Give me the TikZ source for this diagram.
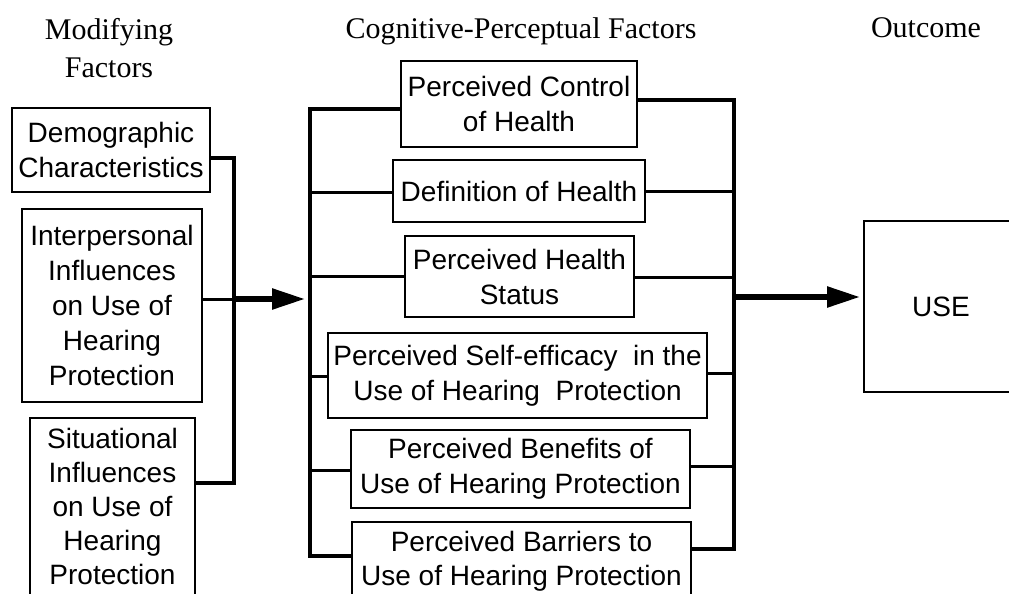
\documentclass[tikz,border=0pt]{standalone}
\usepackage{fontspec}
\setmainfont{Liberation Serif}
\setsansfont{Liberation Sans}
\usetikzlibrary{arrows.meta}
\newcommand\myboxfont{\sffamily\fontsize{28}{35}\selectfont}
\tikzset{
  box/.style={draw, line width=1.9pt, font=\myboxfont, align=center, inner sep=0pt},
  hdr/.style={font=\fontsize{30}{38}\selectfont, align=center, inner sep=0pt},
  conn/.style={line width=3pt},
  bus/.style={line width=3.6pt, line join=miter},
  bigarrow/.style={line width=5.5pt, -{Triangle[length=33pt,width=20pt]}}
}
\begin{document}
\begin{tikzpicture}[x=1pt,y=-1pt]
\useasboundingbox (0,0) rectangle (1009,594);
\clip (0,0) rectangle (1009,594);
\fill[white] (0,0) rectangle (1009,594);
% headers
\node[hdr] (hmod) at (109,48.5) {Modifying\\Factors};
\node[hdr, anchor=base] (hcog) at (521,39) {Cognitive-Perceptual Factors};
\node[hdr, anchor=base] (hout) at (926,38) {Outcome};
% modifying factors
\node[box, minimum width=198pt, minimum height=84pt] (demo) at (111,150) {Demographic\\Characteristics};
\node[box, minimum width=180pt, minimum height=193pt] (inter) at (112,305.5) {Interpersonal\\Influences\\on Use of\\Hearing\\Protection};
\node[box, anchor=north, minimum width=165pt, inner xsep=0pt, inner ysep=10pt,
      font=\sffamily\fontsize{28}{34}\selectfont] (situ) at (112.5,417)
      {Situational\\Influences\\on Use of\\Hearing\\Protection\rule[-40pt]{0pt}{0pt}};
% cognitive-perceptual factors
\node[box, minimum width=236pt, minimum height=86pt] (control) at (519,104) {Perceived Control\\of Health};
\node[box, minimum width=252pt, minimum height=62pt] (defn) at (519,191) {Definition of Health};
\node[box, minimum width=229pt, minimum height=81pt] (status) at (519.5,276.5) {Perceived Health\\Status};
\node[box, minimum width=379pt, minimum height=85pt] (self) at (517.5,375.5) {Perceived Self-efficacy~ in the\\Use of Hearing~ Protection};
\node[box, minimum width=339pt, minimum height=78pt] (benef) at (520.5,469) {Perceived Benefits of\\Use of Hearing Protection};
\node[box, anchor=north, minimum width=339pt, inner xsep=0pt, inner ysep=9pt,
      font=\sffamily\fontsize{28}{34}\selectfont] (barr) at (521.5,521)
      {Perceived Barriers to\\Use of Hearing Protection\rule[-40pt]{0pt}{0pt}};
% outcome
\node[box, minimum width=154pt, minimum height=171pt] (use) at (941,306.5) {USE};
% left bus
\coordinate (L1) at (234,158);
\coordinate (L2) at (234,299);
\coordinate (L3) at (234,483);
\coordinate (A1) at (305,299);
\draw[bus] (demo.east |- L1) -- (L1) -- (L3) -- (situ.east |- L3);
\draw[conn] (inter.east |- L2) -- (L2);
\draw[bigarrow] (L2) -- (A1);
% middle-left bus
\coordinate (M1) at (310,109);
\coordinate (M2) at (310,192);
\coordinate (M3) at (310,276);
\coordinate (M4) at (310,376);
\coordinate (M5) at (310,470);
\coordinate (M6) at (310,556);
\draw[bus] (control.west |- M1) -- (M1) -- (M6) -- (barr.west |- M6);
\draw[conn] (M2) -- (defn.west |- M2);
\draw[conn] (M3) -- (status.west |- M3);
\draw[conn] (M4) -- (self.west |- M4);
\draw[conn] (M5) -- (benef.west |- M5);
% right bus
\coordinate (R1) at (734,100);
\coordinate (R2) at (734,191);
\coordinate (R3) at (734,277);
\coordinate (R4) at (734,373);
\coordinate (R5) at (734,466);
\coordinate (R6) at (734,549);
\coordinate (R0) at (734,297);
\coordinate (A2) at (860,297);
\draw[bus] (control.east |- R1) -- (R1) -- (R6) -- (barr.east |- R6);
\draw[conn] (defn.east |- R2) -- (R2);
\draw[conn] (status.east |- R3) -- (R3);
\draw[conn] (self.east |- R4) -- (R4);
\draw[conn] (benef.east |- R5) -- (R5);
\draw[bigarrow] (R0) -- (A2);
\end{tikzpicture}
\end{document}
